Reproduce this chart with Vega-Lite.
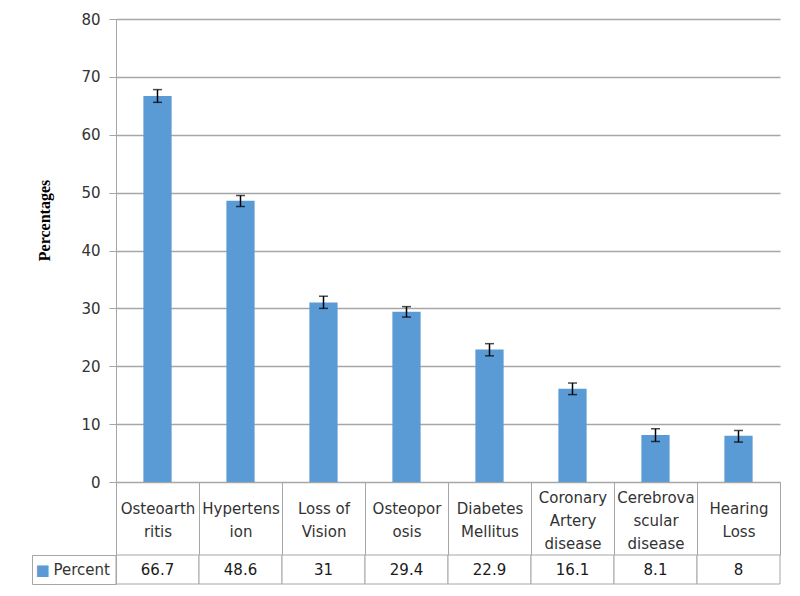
{
  "$schema": "https://vega.github.io/schema/vega-lite/v6.json",
  "padding": {"left": 31, "top": 12, "right": 19, "bottom": 10},
  "background": "white",
  "bounds": "flush",
  "spacing": 73,
  "data": {
    "values": [
      {"Condition": "Osteoarthritis", "Series": "Percent", "Percent": 66.7, "Low": 65.6, "High": 67.8},
      {"Condition": "Hypertension", "Series": "Percent", "Percent": 48.6, "Low": 47.6, "High": 49.5},
      {"Condition": "Loss of Vision", "Series": "Percent", "Percent": 31, "Low": 30.0, "High": 32.1},
      {"Condition": "Osteoporosis", "Series": "Percent", "Percent": 29.4, "Low": 28.5, "High": 30.3},
      {"Condition": "Diabetes Mellitus", "Series": "Percent", "Percent": 22.9, "Low": 21.8, "High": 23.9},
      {"Condition": "Coronary Artery disease", "Series": "Percent", "Percent": 16.1, "Low": 15.1, "High": 17.1},
      {"Condition": "Cerebrovascular disease", "Series": "Percent", "Percent": 8.1, "Low": 7.0, "High": 9.2},
      {"Condition": "Hearing Loss", "Series": "Percent", "Percent": 8, "Low": 6.9, "High": 8.9}
    ]
  },
  "config": {
    "font": "DejaVu Sans",
    "view": {"stroke": null},
    "axis": {"labelFont": "DejaVu Sans", "labelFontSize": 15, "labelColor": "#333333", "domainColor": "#a6a6a6", "tickColor": "#a6a6a6", "gridColor": "#a6a6a6"}
  },
  "vconcat": [
    {
      "width": 664,
      "height": 463,
      "encoding": {
        "x": {
          "field": "Condition", "type": "nominal", "sort": null,
          "scale": {"paddingInner": 0, "paddingOuter": 0},
          "axis": {
            "title": null, "labelAngle": 0, "domain": true, "domainWidth": 1,
            "tickBand": "extent", "tickSize": 73, "ticks": true,
            "labelPadding": {"condition": {"test": "indexof(['Coronary Artery disease', 'Cerebrovascular disease'], datum.value) >= 0", "value": -58}, "value": -47},
            "labelBaseline": "middle", "labelLineHeight": 23,
            "labelExpr": "({'Osteoarthritis': ['Osteoarth', 'ritis'], 'Hypertension': ['Hypertens', 'ion'], 'Loss of Vision': ['Loss of', 'Vision'], 'Osteoporosis': ['Osteopor', 'osis'], 'Diabetes Mellitus': ['Diabetes', 'Mellitus'], 'Coronary Artery disease': ['Coronary', 'Artery', 'disease'], 'Cerebrovascular disease': ['Cerebrova', 'scular', 'disease'], 'Hearing Loss': ['Hearing', 'Loss']})[datum.value]"
          }
        }
      },
      "layer": [
        {
          "mark": {"type": "bar", "color": "#5B9BD5", "width": {"band": 0.34}},
          "encoding": {
            "y": {
              "field": "Percent", "type": "quantitative",
              "scale": {"domain": [0, 80], "nice": false},
              "axis": {
                "title": "Percentages", "titleFont": "Liberation Serif", "titleFontWeight": "bold",
                "titleFontSize": 16, "titleColor": "#000000", "titlePadding": 28, "titleY": 201,
                "tickCount": 8, "tickSize": 7, "labelPadding": 9, "grid": true, "gridWidth": 1.5,
                "domain": true
              }
            }
          }
        },
        {
          "mark": {"type": "rule", "color": "#000000", "strokeWidth": 1.5},
          "encoding": {
            "y": {"field": "Low", "type": "quantitative", "title": "Percentages"},
            "y2": {"field": "High"}
          }
        },
        {
          "mark": {"type": "tick", "color": "#000000", "size": 9, "thickness": 1.5},
          "encoding": {"y": {"field": "Low", "type": "quantitative", "title": "Percentages"}}
        },
        {
          "mark": {"type": "tick", "color": "#000000", "size": 9, "thickness": 1.5},
          "encoding": {"y": {"field": "High", "type": "quantitative", "title": "Percentages"}}
        }
      ]
    },
    {
      "width": 664,
      "height": 29,
      "encoding": {
        "x": {
          "field": "Condition", "type": "nominal", "sort": null,
          "scale": {"paddingInner": 0, "paddingOuter": 0},
          "axis": null
        }
      },
      "layer": [
        {
          "mark": {"type": "rect", "fill": "white", "stroke": "#a6a6a6", "strokeWidth": 1},
          "encoding": {
            "y": {
              "field": "Series", "type": "nominal",
              "scale": {"paddingInner": 0, "paddingOuter": 0},
              "axis": {
                "orient": "left", "title": null, "tickBand": "extent", "tickSize": 84,
                "labelExpr": "datum.label ? '■' : ''", "labelColor": "#5B9BD5", "labelAlign": "left",
                "labelPadding": -3, "labelFontSize": 15
              }
            }
          }
        },
        {
          "mark": {"type": "text", "fontSize": 15, "color": "#1a1a1a"},
          "encoding": {
            "y": {
              "field": "Series", "type": "nominal",
              "axis": {
                "orient": "left", "offset": 84, "title": null, "ticks": false,
                "labelAlign": "left", "labelPadding": -21, "labelFontSize": 15
              }
            },
            "text": {"field": "Percent", "type": "quantitative"}
          }
        }
      ],
      "resolve": {"axis": {"y": "independent"}}
    }
  ]
}
